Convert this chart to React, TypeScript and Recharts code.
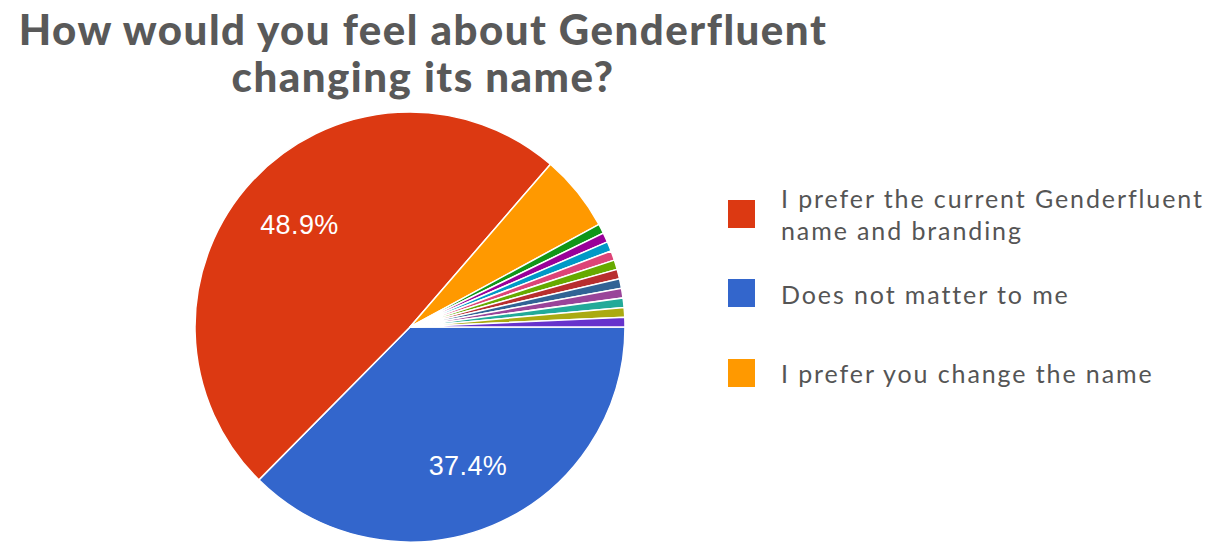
import React from "react";
import { PieChart, Pie, Cell } from "recharts";

const categories = [
  "Does not matter to me",
  "I prefer the current Genderfluent name and branding",
  "I prefer you change the name",
  "Other response 1",
  "Other response 2",
  "Other response 3",
  "Other response 4",
  "Other response 5",
  "Other response 6",
  "Other response 7",
  "Other response 8",
  "Other response 9",
  "Other response 10",
  "Other response 11",
];
const counts = [52, 68, 8, 1, 1, 1, 1, 1, 1, 1, 1, 1, 1, 1];
const colors = [
  "#3366cc", "#dc3912", "#ff9900", "#109618", "#990099", "#0099c6", "#dd4477",
  "#66aa00", "#b82e2e", "#316395", "#994499", "#22aa99", "#aaaa11", "#6633cc",
];
const legendItems = [
  { lines: ["I prefer the current Genderfluent", "name and branding"], color: "#dc3912" },
  { lines: ["Does not matter to me"], color: "#3366cc" },
  { lines: ["I prefer you change the name"], color: "#ff9900" },
];
const titleLines = ["How would you feel about Genderfluent", "changing its name?"];

const data = categories.map((name, i) => ({ name, value: counts[i] }));

const RAD = Math.PI / 180;
const renderLabel = (props: any) => {
  const { cx, cy, midAngle, outerRadius, percent } = props;
  if (percent < 0.1) return null;
  const r = outerRadius * 0.7;
  const x = cx + r * Math.cos(-midAngle * RAD);
  const y = cy + r * Math.sin(-midAngle * RAD);
  return (
    <text
      x={x}
      y={y}
      fill="#ffffff"
      textAnchor="middle"
      dominantBaseline="central"
      fontFamily="Liberation Sans, Arial, sans-serif"
      fontSize={27}
      letterSpacing={0.4}
    >
      {(percent * 100).toFixed(1) + "%"}
    </text>
  );
};

export default function App() {
  const W = 1204;
  const H = 538;
  const tops = [192, 271, 351];
  const textOffsets = [-18, -1, -2];
  return (
    <div style={{ position: "relative", width: W, height: H, background: "#fff" }}>
      <div
        style={{
          position: "absolute",
          left: 0,
          top: -2,
          width: 830,
          textAlign: "center",
          fontFamily: "Lato, 'Open Sans', sans-serif",
          fontWeight: 900,
          fontSize: 42,
          lineHeight: "47px",
          color: "#595959",
          letterSpacing: 1.5,
        }}
      >
        {titleLines.map((t, i) => (
          <div key={i}>{t}</div>
        ))}
      </div>
      <div style={{ position: "absolute", left: 0, top: 0 }}>
        <PieChart width={W} height={H} margin={{ top: 0, right: 0, bottom: 0, left: 0 }}>
          <Pie
            data={data}
            dataKey="value"
            nameKey="name"
            cx={402}
            cy={319}
            outerRadius={215}
            startAngle={0}
            endAngle={-360}
            stroke="#ffffff"
            strokeWidth={1.5}
            isAnimationActive={false}
            label={renderLabel}
            labelLine={false}
          >
            {data.map((d, i) => (
              <Cell key={d.name} fill={colors[i]} />
            ))}
          </Pie>
        </PieChart>
      </div>
      {legendItems.map((item, i) => (
        <div
          key={i}
          style={{
            position: "absolute",
            left: 720,
            top: tops[i],
            display: "flex",
            alignItems: "flex-start",
          }}
        >
          <div style={{ width: 27, height: 28, background: item.color }} />
          <div
            style={{
              marginLeft: 26,
              marginTop: textOffsets[i],
              fontFamily: "Lato, 'Open Sans', sans-serif",
              fontSize: 25,
              lineHeight: "32px",
              color: "#555555",
              letterSpacing: 1.9,
              whiteSpace: "nowrap",
            }}
          >
            {item.lines.map((l, j) => (
              <div key={j}>{l}</div>
            ))}
          </div>
        </div>
      ))}
    </div>
  );
}
